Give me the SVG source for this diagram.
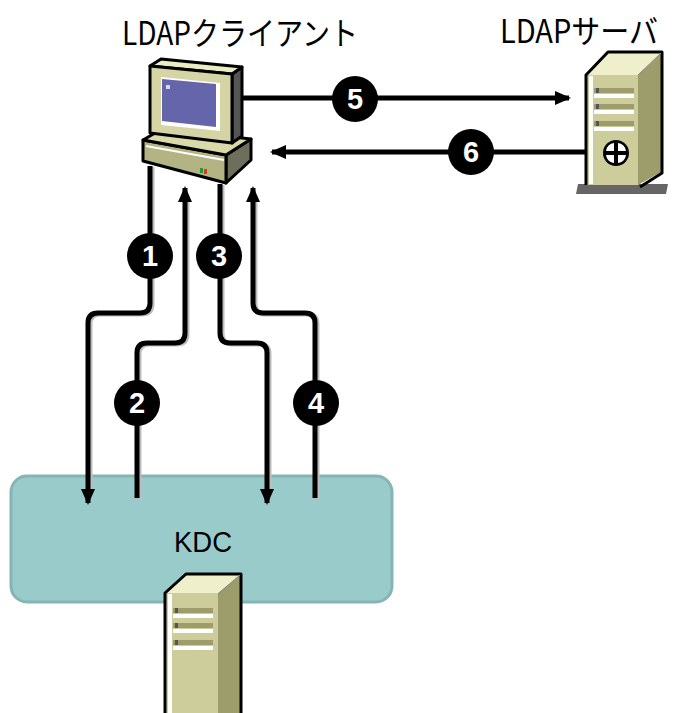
<svg xmlns="http://www.w3.org/2000/svg" width="673" height="713" viewBox="0 0 673 713">
  <style>
    .label { font-family: "Noto Sans CJK JP", "Noto Sans", sans-serif; font-size: 32px; fill: #000; }
    .kdc-text { font-family: "Liberation Sans", Arial, sans-serif; font-size: 30px; fill: #000; }
    .wire { fill: none; stroke: #000; stroke-width: 5; stroke-linejoin: round; }
    .wire-shadow { fill: none; stroke: #bdbdbd; stroke-width: 5; stroke-linejoin: round; }
    .badge { fill: #000; }
    .badge-num { font-family: "Liberation Sans", Arial, sans-serif; font-size: 29px; font-weight: bold; fill: #fff; text-anchor: middle; }
    .edge { stroke: #000; stroke-width: 3; stroke-linejoin: round; }
  </style>
  <defs>
    <marker id="arrow" viewBox="0 0 16 16" refX="14" refY="8" markerWidth="16" markerHeight="16" markerUnits="userSpaceOnUse" orient="auto">
      <path d="M0,1 L16,8 L0,15 Z" fill="#000"/>
    </marker>
  </defs>

  <rect width="673" height="713" fill="#fff"/>

  <!-- KDC block with its server -->
  <g id="kdc">
    <rect x="11" y="476" width="381" height="126" rx="16" ry="16" fill="#99cbcb" stroke="#85b4b4" stroke-width="3"/>
    <text class="kdc-text" x="203" y="552" text-anchor="middle" textLength="58" lengthAdjust="spacingAndGlyphs">KDC</text>
    <!-- tower -->
    <polygon points="218,593 240,575 240,713 218,713" fill="#9d9d6b"/>
    <polygon points="166,593 187,575 240,575 218,593" fill="#efefcb"/>
    <rect x="166" y="593" width="52" height="120" fill="#cdcd9b"/>
    <rect x="168" y="594" width="4" height="119" fill="#fff"/>
    <rect x="173" y="608" width="40" height="5" fill="#9d9d6b"/>
    <rect x="173" y="614" width="40" height="4" fill="#fff"/>
    <rect x="173" y="623" width="40" height="5" fill="#9d9d6b"/>
    <rect x="173" y="629" width="40" height="4" fill="#fff"/>
    <rect x="173" y="640" width="40" height="5" fill="#9d9d6b"/>
    <rect x="173" y="646" width="40" height="4" fill="#fff"/>
    <rect x="175" y="608" width="3" height="5" fill="#555"/>
    <rect x="175" y="623" width="3" height="5" fill="#555"/>
    <rect x="175" y="640" width="3" height="5" fill="#555"/>
    <path d="M165,713 L165,593 L186,574 L241,574 L241,713" class="edge" fill="none" stroke-width="4"/>
    <line x1="218" y1="594" x2="240" y2="575" stroke="#888" stroke-width="1"/>
  </g>

  <!-- LDAP client workstation -->
  <g id="ldap-client">
    <text class="label" x="122" y="45" textLength="236" lengthAdjust="spacingAndGlyphs">LDAPクライアント</text>
    <!-- base unit -->
    <polygon points="226,155 251,139 251,160 226,183" fill="#6e6e5c" class="edge"/>
    <polygon points="143,140 226,155 226,183 143,161" fill="#b3b383" class="edge"/>
    <polygon points="143,140 162,129 251,139 226,155" fill="#d9d9aa" class="edge"/>
    <line x1="146" y1="146" x2="224" y2="160" stroke="#fff" stroke-width="2"/>
    <rect x="200" y="168" width="3" height="5" fill="#1f9a3a"/>
    <rect x="204" y="169" width="3" height="5" fill="#d23a1a"/>
    <!-- monitor -->
    <polygon points="232,74 242,67 242,136 232,143" fill="#555" class="edge"/>
    <polygon points="150,66 161,59 242,67 232,74" fill="#ececc4" class="edge"/>
    <polygon points="150,66 232,74 232,143 150,133" fill="#d4d4a4" class="edge"/>
    <polygon points="161,77 220,83 220,131 161,125" fill="#fff"/>
    <polygon points="162,79 216,84 216,127 162,121" fill="#6565ab"/>
    <rect x="166" y="85" width="4" height="4" fill="#d8d8f0"/>
  </g>

  <!-- LDAP server tower -->
  <g id="ldap-server">
    <text class="label" x="500" y="43" textLength="158" lengthAdjust="spacingAndGlyphs">LDAPサーバ</text>
    <polygon points="578,184 668,184 666,194 576,194" fill="#666"/>
    <polygon points="638,75 661,53 661,172 638,185" fill="#9d9d6b"/>
    <polygon points="587,75 609,53 661,53 638,75" fill="#efefcb"/>
    <rect x="587" y="75" width="51" height="110" fill="#cdcd9b"/>
    <rect x="589" y="76" width="4" height="108" fill="#fff"/>
    <rect x="594" y="88" width="40" height="5" fill="#9d9d6b"/>
    <rect x="594" y="94" width="40" height="4" fill="#fff"/>
    <rect x="594" y="104" width="40" height="5" fill="#9d9d6b"/>
    <rect x="594" y="110" width="40" height="4" fill="#fff"/>
    <rect x="594" y="121" width="40" height="5" fill="#9d9d6b"/>
    <rect x="594" y="127" width="40" height="4" fill="#fff"/>
    <rect x="596" y="88" width="3" height="5" fill="#555"/>
    <rect x="596" y="104" width="3" height="5" fill="#555"/>
    <rect x="596" y="121" width="3" height="5" fill="#555"/>
    <!-- fan: black disc with four white blades -->
    <circle cx="616" cy="153" r="13" fill="#000"/>
    <path d="M614,143 A9,9 0 0 0 606,151 H614 Z M618,143 A9,9 0 0 1 626,151 H618 Z M614,163 A9,9 0 0 1 606,155 H614 Z M618,163 A9,9 0 0 0 626,155 H618 Z" fill="#fff"/>
    <path d="M586,185 L586,75 L608,52 L662,52 L662,173 L640,187" class="edge" fill="none" stroke-width="4"/>
    <line x1="638" y1="75" x2="661" y2="53" stroke="#888" stroke-width="1"/>
  </g>

  <!-- message flows -->
  <g id="connectors">
    <g transform="translate(2,1)">
      <path class="wire-shadow" d="M150,166 V303 Q150,313 140,313 H98 Q88,313 88,323 V495"/>
      <path class="wire-shadow" d="M137,498 V353 Q137,343 147,343 H175 Q185,343 185,333 V198"/>
      <path class="wire-shadow" d="M220,184 V333 Q220,343 230,343 H257 Q267,343 267,353 V495"/>
      <path class="wire-shadow" d="M315,498 V323 Q315,313 305,313 H263 Q253,313 253,303 V198"/>
    </g>
    <path class="wire" d="M150,166 V303 Q150,313 140,313 H98 Q88,313 88,323 V503" marker-end="url(#arrow)"/>
    <path class="wire" d="M137,498 V353 Q137,343 147,343 H175 Q185,343 185,333 V188" marker-end="url(#arrow)"/>
    <path class="wire" d="M220,184 V333 Q220,343 230,343 H257 Q267,343 267,353 V503" marker-end="url(#arrow)"/>
    <path class="wire" d="M315,498 V323 Q315,313 305,313 H263 Q253,313 253,303 V188" marker-end="url(#arrow)"/>
    <path class="wire" d="M242,98 H569" marker-end="url(#arrow)"/>
    <path class="wire" d="M586,152 H272" marker-end="url(#arrow)"/>
  </g>

  <!-- step numbers -->
  <g id="steps">
    <circle class="badge" cx="150" cy="256" r="23"/>
    <text class="badge-num" x="150" y="266">1</text>
    <circle class="badge" cx="137" cy="403" r="23"/>
    <text class="badge-num" x="137" y="413">2</text>
    <circle class="badge" cx="219" cy="256" r="23"/>
    <text class="badge-num" x="219" y="266">3</text>
    <circle class="badge" cx="316" cy="403" r="23"/>
    <text class="badge-num" x="316" y="413">4</text>
    <circle class="badge" cx="355" cy="99" r="23"/>
    <text class="badge-num" x="355" y="109">5</text>
    <circle class="badge" cx="471" cy="152" r="23"/>
    <text class="badge-num" x="471" y="162">6</text>
  </g>
</svg>
